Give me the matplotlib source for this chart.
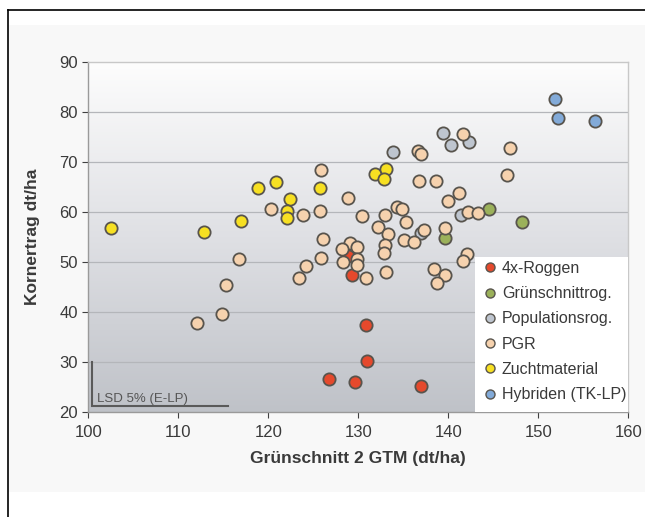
import numpy as np
import matplotlib
matplotlib.use("Agg")
import matplotlib.pyplot as plt
from matplotlib.patches import Rectangle
from matplotlib.lines import Line2D
from matplotlib.colors import LinearSegmentedColormap

plt.rcParams['font.family'] = ['Liberation Sans', 'DejaVu Sans']

# ---------------- data ----------------
roggen4x_x = [128.9, 129.3, 130.9, 131.0, 126.7, 129.6, 137.0]
roggen4x_y = [51.3, 47.5, 37.5, 30.3, 26.6, 26.1, 25.3]

gruen_x = [139.6, 144.5, 148.2]
gruen_y = [54.8, 60.7, 58.0]

pop_x = [139.4, 140.3, 142.3, 133.8, 141.4, 137.0]
pop_y = [75.8, 73.5, 74.0, 72.1, 59.5, 55.8]

pgr_x = [120.3, 116.7, 115.3, 114.9, 112.1,
         141.6, 136.6, 137.0, 125.9, 136.7, 138.6, 146.9, 146.5,
         128.9, 140.0, 141.2,
         123.9, 125.7, 130.4, 133.0, 134.3, 134.9, 142.2, 143.3,
         135.3, 132.2, 133.3, 137.3, 139.6,
         126.1, 135.1, 136.2, 133.0, 132.9,
         129.1, 129.9, 128.2, 129.9, 128.3, 129.8, 125.9, 124.2, 123.4, 130.9, 133.1,
         138.4, 139.6, 138.7, 142.1, 141.6]
pgr_y = [60.7, 50.7, 45.5, 39.6, 37.9,
         75.6, 72.3, 71.6, 68.5, 66.3, 66.3, 72.8, 67.5,
         62.9, 62.3, 63.8,
         59.5, 60.3, 59.3, 59.5, 61.0, 60.6, 60.1, 59.9,
         58.0, 57.1, 55.6, 56.5, 56.9,
         54.7, 54.5, 54.1, 53.5, 51.9,
         53.9, 53.0, 52.7, 50.7, 50.0, 49.5, 50.9, 49.3, 46.8, 46.9, 48.1,
         48.6, 47.5, 45.9, 51.7, 50.3]

zucht_x = [102.5, 112.9, 117.0, 118.8, 120.8, 122.4, 122.1, 122.1, 125.7, 131.8, 133.1, 132.9]
zucht_y = [56.8, 56.0, 58.3, 64.8, 66.0, 62.7, 60.3, 58.9, 64.8, 67.7, 68.7, 66.7]

hyb_x = [151.9, 152.2, 156.3]
hyb_y = [82.7, 78.8, 78.3]

series = [
    ("4x-Roggen", roggen4x_x, roggen4x_y, "#e5492c"),
    ("Grünschnittrog.", gruen_x, gruen_y, "#9bb15a"),
    ("Populationsrog.", pop_x, pop_y, "#bec5cf"),
    ("PGR", pgr_x, pgr_y, "#f6d2ae"),
    ("Zuchtmaterial", zucht_x, zucht_y, "#f7e022"),
    ("Hybriden (TK-LP)", hyb_x, hyb_y, "#82aad8"),
]

x_ticks = [100, 110, 120, 130, 140, 150, 160]
y_ticks = [20, 30, 40, 50, 60, 70, 80, 90]
lsd_x = [100.4, 115.5]
lsd_y = [30.0, 21.3]

# ---------------- figure ----------------
W, H = 645, 517
fig = plt.figure(figsize=(W / 100, H / 100), dpi=100)
fig.patch.set_facecolor("white")

# light chart-area background and black frame
bg = Rectangle((8 / W, 1 - 492 / H), 1 - 8 / W, (492 - 25) / H,
               transform=fig.transFigure, facecolor="#f8f8f8",
               edgecolor="none", zorder=-10)
fig.patches.append(bg)
fig.lines.append(Line2D([8 / W, 8 / W], [0, 1 - 10 / H], transform=fig.transFigure,
                        color="black", lw=1.2, zorder=-5))
fig.lines.append(Line2D([8 / W, 1], [1 - 10 / H, 1 - 10 / H], transform=fig.transFigure,
                        color="black", lw=1.2, zorder=-5))

ax = fig.add_axes([88.3 / W, 1 - 412.3 / H, (628.3 - 88.3) / W, (412.3 - 62.3) / H])
ax.set_zorder(1)

# gradient background
cmap = LinearSegmentedColormap.from_list("bg", ["#bfc2c8", "#dfe0e4", "#fdfdfd"])
grad = np.linspace(0, 1, 256)[:, None]
ax.imshow(grad, extent=[0, 1, 0, 1], transform=ax.transAxes, aspect="auto",
          cmap=cmap, origin="lower", zorder=0)

for yv in y_ticks[1:-1]:
    ax.axhline(yv, color="#b4b6ba", lw=0.9, zorder=1)

for name, xs, ys, col in series:
    ax.scatter(xs, ys, s=78, c=col, edgecolors="#58544d", linewidths=1.3,
               zorder=3, label=name)

# LSD bar
ax.plot([lsd_x[0], lsd_x[0], lsd_x[1]], [lsd_y[0], lsd_y[1], lsd_y[1]],
        color="#5a5a5a", lw=1.5, zorder=2, solid_joinstyle="miter")
ax.text(101.0, 22.6, "LSD 5% (E-LP)", fontsize=9.5, color="#555555",
        va="center", ha="left", zorder=2)

ax.set_xlim(100, 160)
ax.set_ylim(20, 90)
ax.set_xticks(x_ticks)
ax.set_yticks(y_ticks)
ax.tick_params(axis="both", labelsize=12, colors="#404040", length=4, width=0.8)
ax.tick_params(axis="x", pad=5)
for lbl in ax.get_xticklabels() + ax.get_yticklabels():
    lbl.set_color("#3a3a3a")

for side in ["top", "right"]:
    ax.spines[side].set_color("#c8c8c8")
    ax.spines[side].set_linewidth(1.0)
for side in ["left", "bottom"]:
    ax.spines[side].set_color("#9a9a9a")
    ax.spines[side].set_linewidth(1.0)

ax.set_xlabel("Grünschnitt 2 GTM (dt/ha)", fontsize=12.5, fontweight="bold",
              color="#3a3a3a", labelpad=8)
ax.set_ylabel("Kornertrag dt/ha", fontsize=12.5, fontweight="bold",
              color="#3a3a3a", labelpad=14)

# legend box
ax.add_patch(Rectangle(((475 - 88.3) / 540, 0), (628.3 - 475) / 540, (412.3 - 257) / 350,
                       transform=ax.transAxes, facecolor="white", edgecolor="none",
                       zorder=4))
handles = [Line2D([], [], marker="o", ls="none", markersize=6.5, markerfacecolor=c,
                  markeredgecolor="#58544d", markeredgewidth=1.0)
           for _, _, _, c in series]
leg = ax.legend(handles, [s[0] for s in series], loc="upper left",
                bbox_to_anchor=((478 - 88.3) / 540, (412.3 - 257) / 350),
                frameon=False, fontsize=11.5, labelspacing=0.64, handletextpad=0.25,
                handlelength=1.0, borderpad=0.25, borderaxespad=0)
leg.set_zorder(5)
for t in leg.get_texts():
    t.set_color("#3a3a3a")

fig.savefig("out.png", dpi=100)
